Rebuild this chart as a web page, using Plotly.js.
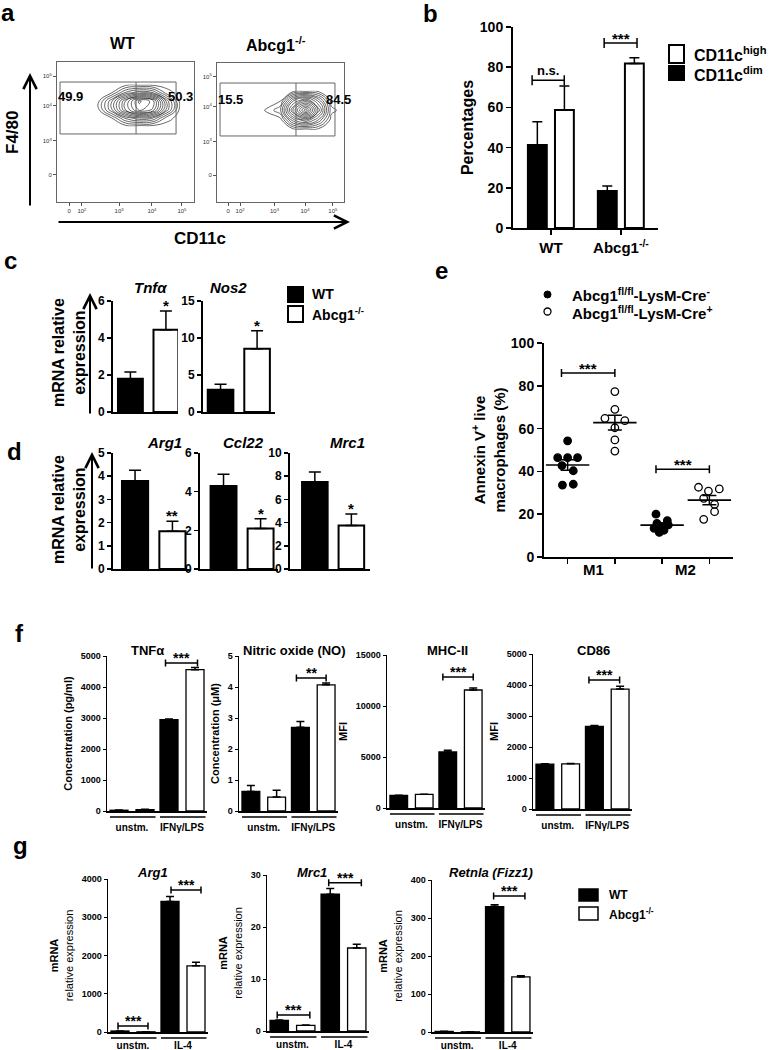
<!DOCTYPE html>
<html><head><meta charset="utf-8">
<script src="https://cdn.plot.ly/plotly-3.0.1.min.js"></script>
<style>html,body{margin:0;padding:0;background:#fff}#chart{width:773px;height:1050px}</style>
</head><body><div id="chart"></div>
<script>
// ================= DATA =================
// a: flow cytometry (display channel units 0-1000), estimated event density grids
const flowXTickVals = [88, 182, 453, 693, 912];
const flowXTickText = ['0', '10<sup>2</sup>', '10<sup>3</sup>', '10<sup>4</sup>', '10<sup>5</sup>'];
const flowYTickVals = [193, 436, 686, 900];
const flowYTickText = ['0', '10<sup>3</sup>', '10<sup>4</sup>', '10<sup>5</sup>'];
const flowWT_x = [200, 300, 400, 500, 600, 700, 800, 900];
const flowWT_y = [540, 600, 660, 720, 780, 840];
const flowWT_z = [
  [0, 0, 0, 0, 0, 0, 0, 0],
  [0, 0, 0.3, 2.3, 3.3, 2.8, 0.6, 0],
  [0, 0.1, 2.7, 5.9, 8.0, 7.0, 3.2, 0],
  [0, 0.1, 2.7, 5.9, 8.5, 7.5, 3.2, 0],
  [0, 0, 0.3, 2.3, 3.3, 2.8, 0.6, 0],
  [0, 0, 0, 0, 0, 0, 0, 0]
];
const flowKO_x = [300, 400, 500, 600, 700, 800, 900, 1000];
const flowKO_y = [520, 590, 660, 730, 800];
const flowKO_z = [
  [0, 0, 0, 0, 0, 0, 0, 0],
  [0, 0, 0, 3.2, 4.6, 2.7, 0, 0],
  [0, 0.4, 1.5, 6.0, 9.5, 5.0, 0.5, 0],
  [0, 0, 0.2, 3.9, 5.4, 3.2, 0, 0],
  [0, 0, 0, 0, 0, 0, 0, 0]
];
const gateWT = [22, 577, 869, 486, 857];   // x0, split, x1, y0, y1 (channels)
const gateKO = [24, 622, 929, 475, 856];
const pctWT = [49.9, 50.3];
const pctKO = [15.5, 84.5];

// b: percentages
const bGroups = ['WT', 'Abcg1<sup>-/-</sup>'];
const bDim = [41.3, 18.4];
const bDimErr = [11.6, 2.5];
const bHigh = [58.7, 81.9];
const bHighErr = [11.9, 2.8];

// c: mRNA relative expression [WT, Abcg1-/-]
const cTnf = [1.8, 4.45];     const cTnfErr = [0.36, 1.01];
const cNos2 = [3.0, 8.56];    const cNos2Err = [0.74, 2.43];
// d
const dArg1 = [3.79, 1.63];   const dArg1Err = [0.47, 0.43];
const dCcl22 = [4.29, 2.09];  const dCcl22Err = [0.61, 0.51];
const dMrc1 = [7.49, 3.74];   const dMrc1Err = [0.88, 1.0];

// e: Annexin V+ live macrophages (%)
const eM1_Cre_neg = [54.3, 46.4, 46.4, 46.4, 42.7, 40.3, 33.6, 34.0];
const eM1_Cre_pos = [77.3, 69.0, 64.8, 63.7, 60.4, 54.7, 49.5];
const eM2_Cre_neg = [20.0, 17.0, 15.7, 15.0, 14.2, 13.4, 12.5, 11.5];
const eM2_Cre_pos = [32.6, 30.8, 31.8, 27.4, 24.6, 21.2, 17.6];

// f: [unstm., IFNγ/LPS]
const fStim = ['unstm.', 'IFNγ/LPS'];
const fTNF_WT = [25, 2950];     const fTNF_WTErr = [5, 20];
const fTNF_KO = [45, 4560];     const fTNF_KOErr = [8, 70];
const fNO_WT = [0.63, 2.70];    const fNO_WTErr = [0.19, 0.19];
const fNO_KO = [0.45, 4.07];    const fNO_KOErr = [0.22, 0.06];
const fMHC_WT = [1240, 5490];   const fMHC_WTErr = [20, 160];
const fMHC_KO = [1340, 11570];  const fMHC_KOErr = [20, 190];
const fCD86_WT = [1445, 2665];  const fCD86_WTErr = [15, 32];
const fCD86_KO = [1456, 3870];  const fCD86_KOErr = [8, 86];

// g: [unstm., IL-4]
const gStim = ['unstm.', 'IL-4'];
const gArg1_WT = [26, 3414];    const gArg1_WTErr = [3, 130];
const gArg1_KO = [5, 1729];     const gArg1_KOErr = [1, 95];
const gMrc1_WT = [2.05, 26.3];  const gMrc1_WTErr = [0.05, 1.1];
const gMrc1_KO = [1.09, 15.96]; const gMrc1_KOErr = [0.05, 0.74];
const gRetnla_WT = [1.5, 330];  const gRetnla_WTErr = [0.2, 5];
const gRetnla_KO = [0.5, 145];  const gRetnla_KOErr = [0.1, 3];

// ================= DRAWING =================
const W = 773, H = 1050;
const FONT = 'Liberation Sans, Arial, Helvetica, sans-serif';
const X = v => v / W, Y = v => 1 - v / H;
const traces = [], shapes = [], ann = [];
const layout = {
  width: W, height: H, margin: {l: 0, r: 0, t: 0, b: 0, pad: 0}, showlegend: false,
  barmode: 'overlay', paper_bgcolor: '#fff', plot_bgcolor: 'rgba(0,0,0,0)',
  font: {family: FONT, color: '#000'}, shapes: shapes, annotations: ann
};
function ids(n) {
  return {x: n === 1 ? 'x' : 'x' + n, y: n === 1 ? 'y' : 'y' + n,
          xk: n === 1 ? 'xaxis' : 'xaxis' + n, yk: n === 1 ? 'yaxis' : 'yaxis' + n};
}
function axes(n, xl, xr, yt, yb, xopt, yopt) {
  const k = ids(n);
  layout[k.xk] = Object.assign({domain: [X(xl), X(xr)], anchor: k.y, showgrid: false, zeroline: false,
    showline: true, linecolor: '#000', linewidth: 2, ticks: '', showticklabels: false, fixedrange: true,
    exponentformat: 'none'}, xopt || {});
  layout[k.yk] = Object.assign({domain: [Y(yb), Y(yt)], anchor: k.x, showgrid: false, zeroline: false,
    showline: true, linecolor: '#000', linewidth: 2, ticks: 'outside', ticklen: 4, tickwidth: 1.5,
    tickcolor: '#000', fixedrange: true, exponentformat: 'none', tickformat: 'd',
    tickfont: {family: FONT, size: 12, weight: 'bold', color: '#000'}}, yopt || {});
  return k;
}
function txt(text, x, y, size, opt) {
  ann.push(Object.assign({text: text, x: X(x), y: Y(y), xref: 'paper', yref: 'paper', showarrow: false,
    font: {family: FONT, size: size, color: '#000', weight: 'bold'}, xanchor: 'center', yanchor: 'middle'}, opt || {}));
}
function arrow(hx, hy, ax, ay) {
  ann.push({text: '', x: X(hx), y: Y(hy), xref: 'paper', yref: 'paper', showarrow: true, ax: ax, ay: ay,
    arrowhead: 5, arrowsize: 1.3, arrowwidth: 2, arrowcolor: '#000'});
}
function rectPx(x0, y0, x1, y1, fill, lw) {
  shapes.push({type: 'rect', xref: 'paper', yref: 'paper', x0: X(x0), x1: X(x1), y0: Y(y1), y1: Y(y0),
    fillcolor: fill, line: {color: '#000', width: lw}});
}
function bracket(k, x0, x1, y, label, size, cap, shift) {
  traces.push({type: 'scatter', mode: 'markers', x: [(x0 + x1) / 2], y: [y], xaxis: k.x, yaxis: k.y,
    marker: {size: 1, color: 'rgba(0,0,0,0)'}, hoverinfo: 'skip',
    error_x: {type: 'constant', value: (x1 - x0) / 2, width: cap || 4, thickness: 1.5, color: '#000'}});
  ann.push({text: label, x: (x0 + x1) / 2, y: y, xref: k.x, yref: k.y, showarrow: false, yanchor: 'bottom',
    yshift: shift === undefined ? -5 : shift, font: {family: FONT, size: size || 13, weight: 'bold', color: '#000'}});
}
function bars(k, x, vals, errs, colors, width, offset, lw, cap) {
  const t = {type: 'bar', x: x, y: vals, xaxis: k.x, yaxis: k.y, width: width, hoverinfo: 'skip',
    marker: {color: colors, line: {color: '#000', width: lw}},
    error_y: {type: 'data', array: errs, arrayminus: errs.map(() => 0), symmetric: false, width: cap, thickness: 1.5, color: '#000'}};
  if (offset !== undefined) t.offset = offset;
  traces.push(t);
}

// ---------- panel a ----------
function flowAxes(n, xl, xr, yt, yb) {
  const tf = {family: FONT, size: 6, color: '#333', weight: 'normal'};
  return axes(n, xl, xr, yt, yb,
    {range: [0, 1000], tickvals: flowXTickVals, ticktext: flowXTickText, ticks: 'outside', ticklen: 3, tickwidth: 1,
     tickcolor: '#555', showticklabels: true, tickfont: tf, linecolor: '#666', linewidth: 1, mirror: true},
    {range: [0, 1000], tickvals: flowYTickVals, ticktext: flowYTickText, ticks: 'outside', ticklen: 3, tickwidth: 1,
     tickcolor: '#555', tickfont: tf, linecolor: '#666', linewidth: 1, mirror: true});
}
function flowPanel(k, gx, gy, gz, gate, pct, lblX, lblY) {
  traces.push({type: 'contour', x: gx, y: gy, z: gz, xaxis: k.x, yaxis: k.y, showscale: false, hoverinfo: 'skip',
    colorscale: [[0, '#000'], [1, '#000']], contours: {coloring: 'lines', start: 0.3, end: 9.5, size: 0.62, showlabels: false},
    line: {width: 0.6, smoothing: 1.3}});
  shapes.push({type: 'rect', xref: k.x, yref: k.y, x0: gate[0], x1: gate[2], y0: gate[3], y1: gate[4], line: {color: '#666', width: 1}});
  shapes.push({type: 'line', xref: k.x, yref: k.y, x0: gate[1], x1: gate[1], y0: gate[3], y1: gate[4], line: {color: '#666', width: 1}});
  ann.push({text: String(pct[0]), x: lblX[0], y: lblY, xref: k.x, yref: k.y, showarrow: false, font: {family: FONT, size: 13, weight: 'bold', color: '#000'}});
  ann.push({text: String(pct[1]), x: lblX[1], y: lblY, xref: k.x, yref: k.y, showarrow: false, font: {family: FONT, size: 13, weight: 'bold', color: '#000'}});
}
const kaWT = flowAxes(1, 57, 194, 62, 202);
const kaKO = flowAxes(2, 217, 344, 63, 202);
flowPanel(kaWT, flowWT_x, flowWT_y, flowWT_z, gateWT, pctWT, [95, 898], 750);
flowPanel(kaKO, flowKO_x, flowKO_y, flowKO_z, gateKO, pctKO, [110, 960], 734);
txt('a', 8, 12, 24);
txt('WT', 122, 44, 16);
txt('Abcg1<sup>-/-</sup>', 276, 44, 16);
txt('F4/80', 13, 132, 17, {textangle: -90});
txt('CD11c', 200, 238, 17);
arrow(30, 73, 0, 134);
arrow(350, 222, -293, 0);

// ---------- panel b ----------
const kb = axes(3, 513, 658, 27, 228,
  {range: [-0.543, 1.53], tickvals: [0, 1], ticktext: bGroups, showticklabels: true, ticks: 'outside', ticklen: 5,
   tickwidth: 1.5, tickcolor: '#000', tickfont: {family: FONT, size: 15, weight: 'bold', color: '#000'}},
  {range: [0, 100], dtick: 20, ticklen: 5, tickfont: {family: FONT, size: 14, weight: 'bold', color: '#000'},
   title: {text: 'Percentages', font: {family: FONT, size: 16, weight: 'bold'}, standoff: 2}});
bars(kb, [0, 1], bDim, bDimErr, '#000', 0.27, -0.33, 2, 5);
bars(kb, [0, 1], bHigh, bHighErr, '#fff', 0.27, 0.057, 2, 5);
bracket(kb, -0.27, 0.19, 73.5, 'n.s.', 13, 5, 0);
bracket(kb, 0.76, 1.23, 92, '***', 15, 5, -6);
txt('b', 430, 13, 24);
rectPx(669, 45, 684, 63, '#fff', 2);
rectPx(669, 66, 684, 80, '#000', 2);
txt('CD11c<sup>high</sup>', 692, 54, 16, {xanchor: 'left'});
txt('CD11c<sup>dim</sup>', 692, 74, 16, {xanchor: 'left'});

// ---------- panels c & d ----------
function simple(n, xl, xr, yt, yb, xr0, xr1, ymax, dtick, vals, errs, title, tx, ty, star) {
  const k = axes(n, xl, xr, yt, yb, {range: [xr0, xr1]}, {range: [0, ymax], dtick: dtick});
  bars(k, [0, 1], vals, errs, ['#000', '#fff'], 0.7, undefined, 2, 6);
  ann.push({text: star, x: 1, y: vals[1] + errs[1], xref: k.x, yref: k.y, showarrow: false, yanchor: 'bottom',
    yshift: -5, font: {family: FONT, size: 15, weight: 'bold', color: '#000'}});
  txt('<i>' + title + '</i>', tx, ty, 15);
  return k;
}
simple(4, 113, 178, 301, 412, -0.49, 1.34, 6, 2, cTnf, cTnfErr, 'Tnfα', 150, 288, '*');
simple(5, 203, 275, 301, 412, -0.48, 1.49, 15, 5, cNos2, cNos2Err, 'Nos2', 228, 288, '*');
simple(6, 113, 190, 453, 569, -0.59, 1.47, 5, 1, dArg1, dArg1Err, 'Arg1', 164, 442, '**');
simple(7, 200, 278, 453, 569, -0.635, 1.47, 6, 2, dCcl22, dCcl22Err, 'Ccl22', 243, 442, '*');
simple(8, 290, 370, 453, 569, -0.68, 1.51, 10, 2, dMrc1, dMrc1Err, 'Mrc1', 347, 442, '*');
txt('c', 10, 260, 24);
txt('d', 15, 451, 24);
txt('mRNA relative<br>expression', 69, 353, 16, {textangle: -90});
txt('mRNA relative<br>expression', 69, 510, 16, {textangle: -90});
arrow(90, 293, 0, 122);
arrow(92, 452, 0, 118);
rectPx(288, 287, 303, 302, '#000', 2);
rectPx(288, 306, 303, 322, '#fff', 2);
txt('WT', 310, 294, 14, {xanchor: 'left'});
txt('Abcg1<sup>-/-</sup>', 310, 314, 14, {xanchor: 'left'});

// ---------- panel e ----------
const ke = axes(9, 544, 733, 343, 557,
  {range: [-0.5, 3.5], tickvals: [0, 1, 2, 3], ticktext: [' ', ' ', ' ', ' '], showticklabels: true, ticks: 'outside',
   ticklen: 5, tickwidth: 1.5, tickcolor: '#000'},
  {range: [0, 100], dtick: 20, ticklen: 5, tickfont: {family: FONT, size: 14, weight: 'bold', color: '#000'},
   title: {text: 'Annexin V<sup>+</sup> live<br>macrophages (%)', font: {family: FONT, size: 15, weight: 'bold'}, standoff: 2}});
const eGroups = [eM1_Cre_neg, eM1_Cre_pos, eM2_Cre_neg, eM2_Cre_pos];
const eSpread = [
  [0, -0.21, 0, 0.21, -0.12, 0.12, -0.11, 0.12],
  [0, 0, -0.21, 0.21, 0, 0, 0],
  [-0.13, 0.11, -0.11, 0.13, 0, -0.17, 0.04, -0.06],
  [-0.23, -0.02, 0.21, -0.12, 0.11, 0.11, -0.12]
];
eGroups.forEach((vals, g) => {
  const open = g % 2 === 1;
  traces.push({type: 'scatter', mode: 'markers', x: vals.map((v, i) => g + eSpread[g][i]), y: vals,
    xaxis: ke.x, yaxis: ke.y, hoverinfo: 'skip', cliponaxis: false,
    marker: {symbol: open ? 'circle-open' : 'circle', size: 7.5, color: '#000', line: {color: '#000', width: 1.3}}});
});
const eMean = eGroups.map(v => v.reduce((a, b) => a + b, 0) / v.length);
const eSem = eGroups.map((v, g) => Math.sqrt(v.reduce((a, b) => a + (b - eMean[g]) ** 2, 0) / (v.length - 1)) / Math.sqrt(v.length));
traces.push({type: 'scatter', mode: 'markers', x: [0, 1, 2, 3], y: eMean, xaxis: ke.x, yaxis: ke.y, hoverinfo: 'skip',
  marker: {symbol: 'line-ew-open', size: 31, color: '#000', line: {color: '#000', width: 1.6}},
  error_y: {type: 'data', array: eSem, width: 7, thickness: 1.5, color: '#000'}});
bracket(ke, -0.13, 1.0, 86, '***', 15, 4, -6);
bracket(ke, 1.87, 3.0, 41, '***', 15, 4, -6);
txt('M1', 593, 569, 15);
txt('M2', 685, 569, 15);
txt('e', 442, 270, 24);
shapes.push({type: 'circle', xref: 'paper', yref: 'paper', x0: X(544), x1: X(551), y0: Y(298), y1: Y(291), fillcolor: '#000', line: {color: '#000', width: 1}});
shapes.push({type: 'circle', xref: 'paper', yref: 'paper', x0: X(544), x1: X(551), y0: Y(315), y1: Y(308), fillcolor: '#fff', line: {color: '#000', width: 1.3}});
txt('Abcg1<sup>fl/fl</sup>-LysM-Cre<sup>-</sup>', 570, 294, 15, {xanchor: 'left'});
txt('Abcg1<sup>fl/fl</sup>-LysM-Cre<sup>+</sup>', 570, 312, 15, {xanchor: 'left'});

// ---------- panels f & g ----------
function grouped(n, xl, xr, yt, yb, ymax, dtick, cats, wt, wtErr, ko, koErr, ytitle, brks, tlen) {
  const k = axes(n, xl, xr, yt, yb,
    {range: [-0.5, 1.5], linewidth: 1.5, tickvals: [0, 1], ticktext: cats, showticklabels: true, ticks: 'outside',
     ticklen: tlen, tickcolor: 'rgba(0,0,0,0)', tickfont: {family: FONT, size: 10, weight: 'bold', color: '#000'}},
    {range: [0, ymax], dtick: dtick, linewidth: 1.5, ticklen: 3, tickwidth: 1, tickformat: 'd',
     tickfont: {family: FONT, size: 9, weight: 'bold', color: '#000'},
     title: {text: ytitle, font: {family: FONT, size: 11, weight: ytitle.indexOf('<br>') >= 0 ? 'normal' : 'bold'}, standoff: 6}});
  bars(k, [0, 1], wt, wtErr, '#000', 0.36, -0.44, 1.3, 4);
  bars(k, [0, 1], ko, koErr, '#fff', 0.36, 0.08, 1.3, 4);
  [0, 1].forEach(i => shapes.push({type: 'line', xref: k.x, yref: 'paper', x0: i - 0.44, x1: i + 0.47,
    y0: Y(yb + 6), y1: Y(yb + 6), line: {color: '#000', width: 1.5}}));
  brks.forEach(b => bracket(k, b[0], b[1], b[2], b[3], 14, 3.5, -5));
  return k;
}
grouped(10, 107, 207, 656, 811, 5000, 1000, fStim, fTNF_WT, fTNF_WTErr, fTNF_KO, fTNF_KOErr,
  'Concentration (pg/ml)', [[0.67, 1.31, 4774, '***']], 6);
grouped(11, 239, 338, 656, 811, 5, 1, fStim, fNO_WT, fNO_WTErr, fNO_KO, fNO_KOErr,
  'Concentration (μM)', [[0.66, 1.26, 4.29, '**']], 6);
grouped(12, 387, 485, 655, 808, 15000, 5000, fStim, fMHC_WT, fMHC_WTErr, fMHC_KO, fMHC_KOErr,
  'MFI', [[0.64, 1.26, 12840, '***']], 6);
grouped(13, 533, 632, 654, 809, 5000, 1000, fStim, fCD86_WT, fCD86_WTErr, fCD86_KO, fCD86_KOErr,
  'MFI', [[0.63, 1.25, 4160, '***']], 6);
txt('f', 19, 633, 24);
txt('TNFα', 147, 650, 13);
txt('Nitric oxide (NO)', 294, 650, 13);
txt('MHC-II', 447, 650, 13);
txt('CD86', 593, 650, 13);

const gTitle = '<b>mRNA</b><br>relative expression';
grouped(14, 108, 208, 879, 1032, 4000, 1000, gStim, gArg1_WT, gArg1_WTErr, gArg1_KO, gArg1_KOErr,
  gTitle, [[-0.3, 0.3, 157, '***'], [0.76, 1.36, 3712, '***']], 3);
grouped(15, 267, 369, 875, 1031, 30, 10, gStim, gMrc1_WT, gMrc1_WTErr, gMrc1_KO, gMrc1_KOErr,
  gTitle, [[-0.3, 0.34, 3.1, '***'], [0.71, 1.35, 28.5, '***']], 3);
grouped(16, 432, 533, 880, 1032, 400, 100, gStim, gRetnla_WT, gRetnla_WTErr, gRetnla_KO, gRetnla_KOErr,
  gTitle, [[0.72, 1.34, 358, '***']], 3);
txt('g', 20, 845, 24);
txt('<i>Arg1</i>', 152, 872, 13);
txt('<i>Mrc1</i>', 312, 872, 13);
txt('<i>Retnla (Fizz1)</i>', 491, 872, 13);
rectPx(579, 889, 598, 901, '#000', 1.5);
rectPx(579, 907, 598, 920, '#fff', 1.5);
txt('WT', 607, 895, 12, {xanchor: 'left'});
txt('Abcg1<sup>-/-</sup>', 607, 914, 12, {xanchor: 'left'});

Plotly.newPlot('chart', traces, layout, {staticPlot: true, displayModeBar: false});
</script>
</body></html>
